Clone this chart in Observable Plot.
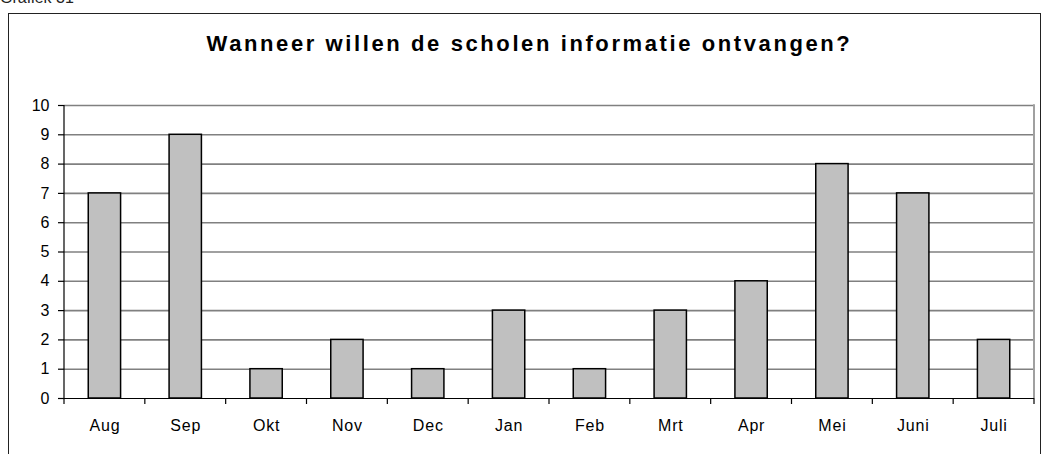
<!DOCTYPE html>
<html>
<head>
<meta charset="utf-8">
<script src="https://cdn.jsdelivr.net/npm/d3@7"></script>
<script src="https://cdn.jsdelivr.net/npm/@observablehq/plot@0.6"></script>
<style>
  html, body { margin: 0; padding: 0; background: #fff; width: 1044px; height: 454px; overflow: hidden; }
  #frame { position: absolute; left: 8px; top: 13px; width: 1033px; height: 460px; border: 1px solid #222; box-sizing: border-box; }
  #cap { position: absolute; left: 0px; top: -10px; font: 16px/16px "Liberation Sans", Arial, sans-serif; color: #222; white-space: nowrap; }
  #chart { position: absolute; left: 0; top: 0; }
</style>
</head>
<body>
<div id="cap">Grafiek 31</div>
<div id="frame"></div>
<div id="chart"></div>
<script>
const months = ["Aug", "Sep", "Okt", "Nov", "Dec", "Jan", "Feb", "Mrt", "Apr", "Mei", "Juni", "Juli"];
const counts = [7, 9, 1, 2, 1, 3, 1, 3, 4, 8, 7, 2];
const yTicks = [0, 1, 2, 3, 4, 5, 6, 7, 8, 9, 10];
const title = "Wanneer willen de scholen informatie ontvangen?";

const data = months.map((m, i) => ({month: m, count: counts[i]}));

const chart = Plot.plot({
  width: 1044,
  height: 454,
  marginLeft: 64,
  marginRight: 10,
  marginTop: 105,
  marginBottom: 56,
  style: {fontFamily: "'Liberation Sans', Arial, sans-serif", background: "transparent", overflow: "visible"},
  x: {domain: months, paddingInner: 0.6, paddingOuter: 0.3, align: 0.5, round: false, label: null},
  y: {domain: [0, 10], label: null},
  marks: [
    Plot.ruleY(yTicks.filter(d => d > 0), {stroke: "#808080", strokeWidth: 1.6}),
    Plot.barY(data, {x: "month", y: "count", fill: "#c0c0c0", stroke: "#000", strokeWidth: 1.5}),
    Plot.ruleY([0], {stroke: "#000", strokeWidth: 1.2}),
    Plot.axisY({ticks: yTicks, tickSize: 6, tickPadding: 9, fontSize: 16, color: "#000", strokeWidth: 1.2, label: null}),
    Plot.axisX({tickSize: 0, tickPadding: 21, fontSize: 16, color: "#000", label: null}),
    Plot.text([title], {frameAnchor: "top", lineAnchor: "middle", dy: -62, dx: -20, fontSize: 22, fontWeight: "bold", fill: "#000", text: d => d})
  ]
});

document.getElementById("chart").appendChild(chart);

const svg = d3.select(chart);
svg.selectAll("text").filter(function() { return this.textContent === title; })
  .style("letter-spacing", "2.6px");
svg.selectAll('g[aria-label="x-axis tick label"] text').style("letter-spacing", "0.8px");

const xs = chart.scale("x");
const ys = chart.scale("y");
const y0 = ys.apply(0), y10 = ys.apply(10);
const step = xs.step;
const first = xs.apply(months[0]) + xs.bandwidth / 2 - step / 2;
const last = first + months.length * step;
const tickXs = d3.range(months.length + 1).map(i => first + i * step);
const g = svg.append("g");
// plot-area right border (gray)
g.append("line").attr("x1", last).attr("x2", last).attr("y1", y10 - 0.8).attr("y2", y0)
  .attr("stroke", "#a0a0a0").attr("stroke-width", 2);
// left axis line (black)
g.append("line").attr("x1", first).attr("x2", first).attr("y1", y10).attr("y2", y0)
  .attr("stroke", "#000").attr("stroke-width", 1.2);
// category boundary ticks
g.selectAll("line.t").data(tickXs).join("line").attr("class", "t")
  .attr("x1", d => d).attr("x2", d => d)
  .attr("y1", y0).attr("y2", y0 + 6)
  .attr("stroke", "#000").attr("stroke-width", 1.2);
</script>
</body>
</html>
